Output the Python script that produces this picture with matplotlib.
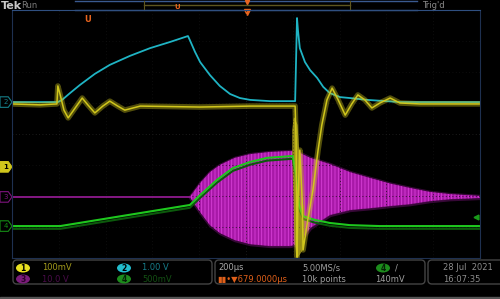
import matplotlib
matplotlib.use("Agg")
import matplotlib.pyplot as plt
from matplotlib.patches import FancyBboxPatch, Rectangle, Ellipse, Polygon
import matplotlib.patheffects as pe

# ---- scope data, screen divisions (x: 0..10 div, y: -4..4 div) ----
ch_offsets = [-1.06, 1.03, -2.03, -2.97]   # ch1..ch4 ground markers
trig_level = -2.69                          # ch4 trigger level (140mV)

cyan_t = [0.00, 0.98, 1.07, 1.24, 1.45, 1.77, 2.09, 2.52, 2.95, 3.38,
          3.76, 3.80, 3.91, 4.02, 4.23, 4.44, 4.66, 4.87, 5.09, 5.51,
          6.05, 6.07, 6.09, 6.11, 6.15, 6.26, 6.37, 6.52, 6.65, 6.79,
          7.01, 7.22, 7.59, 8.29, 10.00]
cyan_v = [1.03, 1.03, 1.10, 1.32, 1.58, 1.94, 2.23, 2.52, 2.77, 2.97,
          3.16, 3.03, 2.65, 2.32, 1.90, 1.55, 1.29, 1.16, 1.10, 1.06,
          1.06, 2.39, 3.74, 3.35, 2.77, 2.32, 2.06, 1.81, 1.52, 1.32,
          1.19, 1.16, 1.10, 1.03, 1.03]

yel_t = [0.00, 0.60, 0.96, 0.98, 1.03, 1.11, 1.20, 1.35, 1.50, 1.62,
         1.77, 1.94, 2.09, 2.26, 2.41, 2.74, 4.02, 5.09, 6.05, 6.07,
         6.09, 6.11, 6.15, 6.20, 6.22, 6.32, 6.43, 6.54, 6.62, 6.73,
         6.84, 6.97, 7.12, 7.26, 7.39, 7.54, 7.69, 7.86, 8.08, 8.29,
         8.72, 10.00]
yel_v = [0.97, 0.94, 0.97, 1.55, 1.26, 0.77, 0.52, 0.84, 1.16, 0.94,
         0.68, 0.90, 1.06, 0.90, 0.77, 0.90, 0.87, 0.90, 0.90, -0.19,
         -3.97, -2.13, -0.52, -2.13, -3.74, -2.77, -1.81, -0.52, 0.29, 1.10,
         1.48, 1.10, 0.61, 0.97, 1.26, 1.10, 0.84, 1.00, 1.16, 1.00,
         0.97, 0.97]

# glitch blob on ch1 at the switching edge
olive_t = [6.03, 6.09, 6.13, 6.15, 6.18, 6.22, 6.24, 6.20, 6.13, 6.09, 6.05, 6.03, 6.00, 6.00]
olive_v = [0.52, 0.29, -0.84, -2.13, -2.61, -2.29, -3.10, -3.74, -3.90, -4.00, -3.42, -2.13, -0.84, 0.13]

mag_flat_t = [0.00, 3.80]
mag_flat_v = [-2.03, -2.03]
mag_t = [3.80, 4.02, 4.23, 4.44, 4.76, 5.09, 5.51, 5.94, 6.11, 6.37,
         6.79, 7.22, 7.65, 8.08, 8.50, 8.93, 9.36, 10.00]
mag_hi = [-2.03, -1.58, -1.23, -1.00, -0.77, -0.65, -0.58, -0.55, -0.58, -0.77,
          -0.97, -1.23, -1.42, -1.60, -1.74, -1.87, -1.94, -2.00]
mag_lo = [-2.03, -2.52, -2.94, -3.19, -3.42, -3.55, -3.61, -3.61, -3.55, -3.03,
          -2.61, -2.45, -2.39, -2.32, -2.26, -2.16, -2.10, -2.06]

grn_t = [0.00, 1.03, 3.80, 3.91, 4.02, 4.38, 4.72, 5.09, 5.45, 6.00,
         6.07, 6.13, 6.22, 6.47, 6.79, 7.22, 7.86, 10.00]
grn_v = [-2.97, -2.97, -2.29, -2.13, -1.97, -1.48, -1.10, -0.90, -0.77, -0.71,
         -1.32, -2.29, -2.65, -2.77, -2.87, -2.94, -2.97, -2.97]

ch_colors = ["#d0c61c", "#1fb4c4", "#b41cb4", "#1ec81e"]

fig = plt.figure(figsize=(5, 2.99), dpi=100, facecolor="black")

# background / screen chrome in pixel coords
bg = fig.add_axes([0, 0, 1, 1])
bg.set_xlim(0, 500)
bg.set_ylim(299, 0)
bg.axis("off")
bg.add_patch(Rectangle((0, 0), 500, 299, color="black", zorder=0))

# top bar
bg.text(1, 6, "Tek", color="#c8c8c8", fontsize=8, fontweight="bold", va="center")
bg.text(21, 6, "Run", color="#7a7a7a", fontsize=6, va="center")
bg.text(422, 5, "Trig'd", color="#8a8a8a", fontsize=6, va="center")
bg.plot([75, 417], [1, 1], color="#3a5a90", lw=1)
bg.plot([75, 417], [10, 10], color="#3a5a90", lw=1)
bg.plot([144, 350], [5, 5], color="#5e5620", lw=1)
bg.plot([144, 144], [1, 10], color="#5e5620", lw=0.8)
bg.plot([350, 350], [1, 10], color="#5e5620", lw=0.8)
bg.text(177, 7, "U", color="#e8641e", fontsize=5, fontweight="bold", ha="center", va="center")
bg.text(88, 20, "U", color="#e8641e", fontsize=6, fontweight="bold", ha="center", va="center")
bg.plot([246.5], [1.5], marker="v", color="#e8641e", ms=3)
bg.plot([246.5], [12], marker="v", color="#e8641e", ms=4)

# bottom readout boxes
for x0, x1 in [(13, 212), (215, 425), (428, 510)]:
    bg.add_patch(FancyBboxPatch((x0, 260), x1 - x0, 24,
                                boxstyle="round,pad=0,rounding_size=4",
                                fc="black", ec="#444444", lw=1))
bg.add_patch(Rectangle((0, 296.5), 500, 3, color="#555555"))

def badge(x, y, num, fc, tc):
    bg.add_patch(Ellipse((x, y), 14, 9, fc=fc, ec="none"))
    bg.text(x, y + 0.5, num, color=tc, fontsize=5.5, fontweight="bold", ha="center", va="center")

badge(23, 268, "1", "#e8e020", "black")
badge(124, 268, "2", "#22bccc", "black")
badge(23, 279, "3", "#7a1c7a", "#2a002a")
badge(124, 279, "4", "#1c8c1c", "#062006")
badge(383, 268, "4", "#1c8c1c", "#062006")

lbl = dict(fontsize=6, va="center")
bg.text(42, 268, "100mV", color="#a49c1c", **lbl)
bg.text(142, 268, "1.00 V", color="#177d8a", **lbl)
bg.text(42, 279, "10.0 V", color="#4a0c4a", **lbl)
bg.text(142, 279, "500mV", color="#135013", **lbl)
bg.text(218, 268, "200µs", color="#a8a8a8", **lbl)
bg.text(217, 279, "▮▮•▼679.0000µs", color="#e0601a", **lbl)
bg.text(302, 268, "5.00MS/s", color="#a0a0a0", **lbl)
bg.text(302, 279, "10k points", color="#a0a0a0", **lbl)
bg.text(395, 268, "/", color="#a0a0a0", **lbl)
bg.text(375, 279, "140mV", color="#a0a0a0", **lbl)
bg.text(443, 268, "28 Jul  2021", color="#8c8c8c", **lbl)
bg.text(443, 279, "16:07:35", color="#8c8c8c", **lbl)

# graticule / traces
ax = fig.add_axes([12 / 500, 1 - 258 / 299, 468 / 500, 248 / 299])
ax.set_xlim(0, 10)
ax.set_ylim(-4, 4)
ax.patch.set_alpha(0)
ax.set_xticks([])
ax.set_yticks([])
for s in ax.spines.values():
    s.set_color("#1e3050")
    s.set_linewidth(0.8)
ax.spines["top"].set_color("#2f4f80")
for gx in range(1, 10):
    ax.axvline(gx, color="#222222" if gx == 5 else "#121212", lw=0.6, ls=(0, (1, 3)))
for gy in range(-3, 4):
    ax.axhline(gy, color="#262626" if gy == 0 else "#121212", lw=0.6, ls=(0, (1, 3)))

# ch3 burst
ax.plot(mag_flat_t, mag_flat_v, color="#9a1c9a", lw=1.2)
ax.fill_between(mag_t, mag_hi, mag_lo, color=ch_colors[2], alpha=0.3, lw=2.5, ec=ch_colors[2])
plt.rcParams["hatch.linewidth"] = 0.6
ax.fill_between(mag_t, mag_hi, mag_lo, facecolor="#a818a8", edgecolor="#d840d8", hatch="|||||", lw=0)

# ch4
ax.plot(grn_t, grn_v, color=ch_colors[3], lw=1.5,
        path_effects=[pe.SimpleLineShadow(offset=(0, -2), shadow_color="#0c5a0c", alpha=1), pe.Normal()])
ax.plot([9.92], [trig_level], marker="<", color="#1a9a1a", ms=3.5, clip_on=False)

# ch2
ax.plot(cyan_t, cyan_v, color=ch_colors[1], lw=1.3)

# ch1 (noisy, drawn as a glow band + core)
ax.plot(yel_t, yel_v, color=ch_colors[0], lw=4.0, alpha=0.4)
ax.plot(yel_t, yel_v, color=ch_colors[0], lw=1.1)
ax.add_patch(Polygon(list(zip(olive_t, olive_v)), closed=True, fc="#7a7014", ec="#8a8018", lw=0.8))

# channel ground tags on the left edge
tag_w, tag_h = 0.256, 0.17
for i, off in enumerate(ch_offsets):
    pts = [(-tag_w, off - tag_h), (-0.08, off - tag_h), (0, off), (-0.08, off + tag_h), (-tag_w, off + tag_h)]
    if i == 0:
        ax.add_patch(Polygon(pts, closed=True, fc=ch_colors[0], ec=ch_colors[0], lw=0.8, clip_on=False))
        ax.text(-0.14, off, "1", color="black", fontsize=5, fontweight="bold", ha="center", va="center")
    else:
        ax.add_patch(Polygon(pts, closed=True, fc="black", ec=ch_colors[i], lw=0.8, alpha=0.7, clip_on=False))
        ax.text(-0.14, off, str(i + 1), color=ch_colors[i], alpha=0.7, fontsize=5, ha="center", va="center")

fig.savefig("out.png", dpi=100, facecolor="black")
